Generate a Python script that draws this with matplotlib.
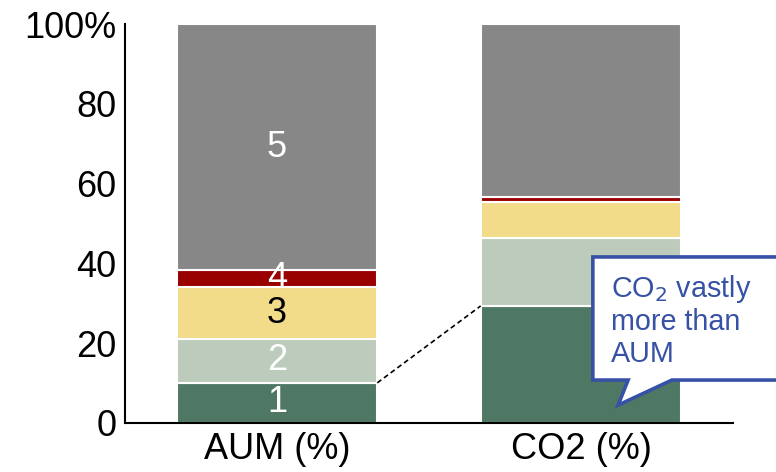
import numpy as np
import matplotlib.pyplot as plt
from matplotlib.patches import Polygon

plt.rcParams['font.family'] = ['Liberation Sans', 'DejaVu Sans']

# stacked shares (%), bottom segment first
categories = ['AUM (%)', 'CO2 (%)']
seg1 = [10.0, 29.3]
seg2 = [11.0, 17.1]
seg3 = [13.0, 9.1]
seg4 = [4.2, 1.2]
seg5 = [61.8, 43.3]
segments = [seg1, seg2, seg3, seg4, seg5]
seg_labels = ['1', '2', '3', '4', '5']
colors = ['#4e7864', '#bccbbc', '#f2dc8a', '#990000', '#878787']
label_colors = ['white', 'white', 'black', 'white', 'white']

fig = plt.figure(figsize=(7.76, 4.72), dpi=100)
ax = fig.add_axes([0.161, 0.1045, 0.7836, 0.844])

x = np.arange(len(categories))
bottom = np.zeros(len(categories))
for i, vals in enumerate(segments):
    vals = np.array(vals)
    ax.bar(x, vals, width=0.66, bottom=bottom, color=colors[i],
           edgecolor='white', linewidth=1.5, zorder=2)
    # numbers only in the first bar
    ax.text(x[0], bottom[0] + vals[0] / 2, seg_labels[i], ha='center', va='center',
            color=label_colors[i], fontsize=26, zorder=3)
    bottom = bottom + vals

# dashed connector between tops of segment 1
ax.plot([x[0] + 0.33, x[1] - 0.33], [seg1[0], seg1[1]], ls='--', color='black',
        lw=1.2, dashes=(3, 2), zorder=3)

# callout box with tail
box_l, box_r, box_b, box_t = 1.039, 1.75, 10.7, 41.6
callout = Polygon([(box_l, box_t), (box_r, box_t), (box_r, box_b), (1.299, box_b),
                   (1.122, 4.4), (1.155, box_b), (box_l, box_b)], closed=True,
                  facecolor='white', edgecolor='#3651a5', linewidth=2.6,
                  clip_on=False, zorder=4)
ax.add_patch(callout)
ax.text(1.099, 25.7, 'CO$_2$ vastly\nmore than\nAUM', ha='left', va='center',
        color='#3651a5', fontsize=20.7, linespacing=1.15, zorder=5)

ax.set_xlim(-0.5, 1.5)
ax.set_ylim(0, 100)
ax.set_xticks(x)
ax.set_xticklabels(categories, fontsize=26)
ax.set_yticks([0, 20, 40, 60, 80, 100])
ax.set_yticklabels(['0', '20', '40', '60', '80', '100%'], fontsize=26)
ax.tick_params(axis='y', length=0, pad=6)
ax.tick_params(axis='x', length=0, pad=7)
ax.spines['top'].set_visible(False)
ax.spines['right'].set_visible(False)
ax.spines['left'].set_linewidth(1.5)
ax.spines['bottom'].set_linewidth(1.5)

fig.savefig('out.png', dpi=100)
